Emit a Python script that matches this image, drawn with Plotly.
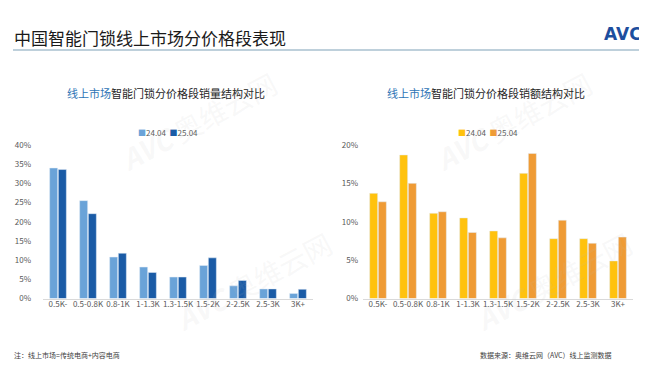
import plotly.graph_objects as go

categories = ["0.5K-", "0.5-0.8K", "0.8-1K", "1-1.3K", "1.3-1.5K", "1.5-2K", "2-2.5K", "2.5-3K", "3K+"]
series_names = ["24.04", "25.04"]
volume_2404 = [34.0, 25.5, 10.8, 8.2, 5.6, 8.6, 3.3, 2.5, 1.3]
volume_2504 = [33.6, 22.1, 11.8, 6.8, 5.6, 10.6, 4.7, 2.5, 2.4]
value_2404 = [13.7, 18.7, 11.1, 10.5, 8.8, 16.3, 7.8, 7.8, 4.9]
value_2504 = [12.6, 15.0, 11.3, 8.6, 7.9, 18.9, 10.2, 7.2, 8.0]
left_ticks = [0, 5, 10, 15, 20, 25, 30, 35, 40]
right_ticks = [0, 5, 10, 15, 20]

FONT = "Noto Sans CJK SC"
C_LB, C_DB = "#6aa3d8", "#1a5ba6"
C_Y, C_O = "#ffc20e", "#ef9b35"

fig = go.Figure()
fig.add_bar(x=categories, y=volume_2404, name=series_names[0], marker_color=C_LB, xaxis="x", yaxis="y")
fig.add_bar(x=categories, y=volume_2504, name=series_names[1], marker_color=C_DB, xaxis="x", yaxis="y")
fig.add_bar(x=categories, y=value_2404, name=series_names[0], marker_color=C_Y, xaxis="x2", yaxis="y2")
fig.add_bar(x=categories, y=value_2504, name=series_names[1], marker_color=C_O, xaxis="x2", yaxis="y2")

W, H = 647, 368
def px(x): return x / W
def py(y): return 1 - y / H

tickfont = dict(family=FONT, size=8, color="#595959")
xcommon = dict(tickfont=tickfont, showgrid=False, showline=True, linecolor="#d9d9d9",
               linewidth=1, ticks="", fixedrange=True, ticklabelstandoff=-2)
ycommon = dict(tickfont=tickfont, showgrid=False, zeroline=False, showline=False,
               ticks="", fixedrange=True)

def ann(text, x, y, size, color, xanchor="center", family=FONT, **kw):
    return dict(text=text, x=px(x), y=py(y), xref="paper", yref="paper", xanchor=xanchor,
                yanchor="middle", showarrow=False, font=dict(family=family, size=size, color=color), **kw)

def legend_text(c1, c2):
    return (f"<span style='color:{c1}'>■</span>{series_names[0]}  "
            f"<span style='color:{c2}'>■</span>{series_names[1]}")

annotations = [
    ann("中国智能门锁线上市场分价格段表现", 4, 24, 17, "#1a1a1a", xanchor="left"),
    ann("<b>AVC</b>", 636, 21, 17, "#1d4e9e", xanchor="right", family="DejaVu Sans"),
    ann("<span style='color:#2e75b6'>线上市场</span>智能门锁分价格段销量结构对比", 158, 81, 11, "#262626"),
    ann("<span style='color:#2e75b6'>线上市场</span>智能门锁分价格段销额结构对比", 478, 81, 11, "#262626"),
    ann(legend_text(C_LB, C_DB), 160, 122, 8, "#595959"),
    ann(legend_text(C_Y, C_O), 480, 122, 8, "#595959"),
    ann("注：线上市场=传统电商+内容电商", 4, 352, 7, "#404040", xanchor="left"),
    ann("数据来源：奥维云网（AVC）线上监测数据", 606, 352, 7, "#404040", xanchor="right"),
]
# faint watermarks
for (wx, wy) in [(190, 110), (505, 110), (245, 275), (545, 275)]:
    annotations.append(ann("<b><i>AVC</i></b> 奥维云网", wx, wy, 28, "rgba(190,190,190,0.10)", textangle=-28))

fig.update_layout(
    width=W, height=H, margin=dict(l=0, r=0, t=0, b=0),
    paper_bgcolor="white", plot_bgcolor="rgba(0,0,0,0)",
    barmode="group", bargap=0.42, bargroupgap=0.08,
    font=dict(family=FONT), showlegend=False,
    xaxis=dict(domain=[px(35), px(305)], anchor="y", **xcommon),
    yaxis=dict(domain=[py(293.3), py(135)], anchor="x", range=[0, 40], tickvals=left_ticks,
               ticktext=[f"{v}%" for v in left_ticks], ticklabelstandoff=11, **ycommon),
    xaxis2=dict(domain=[px(355), px(625)], anchor="y2", **xcommon),
    yaxis2=dict(domain=[py(293.3), py(135)], anchor="x2", range=[0, 20], tickvals=right_ticks,
                ticktext=[f"{v}%" for v in right_ticks], ticklabelstandoff=4, **ycommon),
    annotations=annotations,
    shapes=[dict(type="line", xref="paper", yref="paper", x0=px(5), x1=px(643), y0=py(37), y1=py(37),
                 line=dict(color="#a9c1cf", width=1.5))],
)

fig.write_html("out.html")
